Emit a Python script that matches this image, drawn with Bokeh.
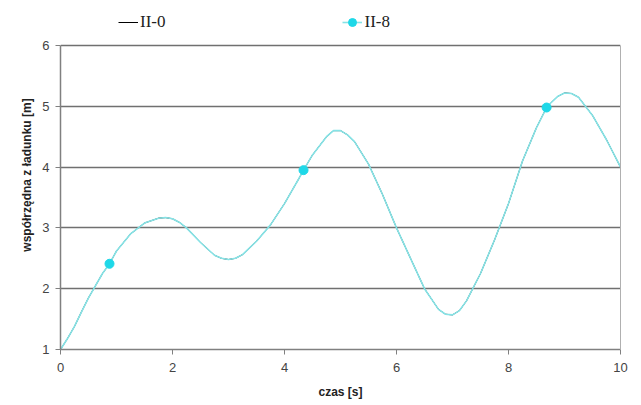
from bokeh.plotting import figure
from bokeh.models import Legend, LegendItem, Range1d, FixedTicker, LinearAxis
from bokeh.embed import file_html
from bokeh.resources import INLINE

# ---- data ----
t_values = [0.0, 0.125, 0.25, 0.375, 0.5, 0.75, 0.875, 1.0, 1.25, 1.5, 1.75, 1.875, 2.0,
            2.125, 2.25, 2.5, 2.75, 2.875, 3.0, 3.125, 3.25, 3.5, 3.75, 4.0, 4.25, 4.34,
            4.5, 4.75, 4.875, 5.0, 5.125, 5.25, 5.5, 5.75, 6.0, 6.25, 6.5, 6.75, 6.875,
            7.0, 7.125, 7.25, 7.5, 7.75, 8.0, 8.25, 8.5, 8.68, 8.75, 8.875, 9.0, 9.125,
            9.25, 9.5, 9.75, 10.0]
y_II0 = [1.0, 1.18, 1.38, 1.62, 1.85, 2.25, 2.41, 2.62, 2.9, 3.08, 3.16, 3.17, 3.15,
         3.09, 3.0, 2.76, 2.55, 2.5, 2.48, 2.5, 2.56, 2.78, 3.05, 3.4, 3.8, 3.95,
         4.2, 4.5, 4.6, 4.6, 4.53, 4.42, 4.05, 3.55, 3.0, 2.5, 2.0, 1.66, 1.58,
         1.57, 1.64, 1.8, 2.25, 2.8, 3.4, 4.1, 4.65, 4.98, 5.05, 5.16, 5.22, 5.21,
         5.15, 4.85, 4.45, 4.0]
y_II8 = list(y_II0)
marker_t = [0.875, 4.34, 8.68]
marker_y = [2.41, 3.95, 4.98]
x_ticks = [0, 2, 4, 6, 8, 10]
y_ticks = [1, 2, 3, 4, 5, 6]
y_min, y_max = 1, 6
series_names = ["II-0", "II-8"]

# frame extends above y=6 so the legend can sit in the top margin area
p = figure(width=641, height=405, output_backend="svg", toolbar_location=None,
           x_range=Range1d(0, 10), y_range=Range1d(1, 6 + 45 / 60.8),
           min_border_left=60, min_border_right=21, min_border_top=0, min_border_bottom=56,
           frame_width=560, frame_height=349)
p.outline_line_color = None
p.background_fill_color = "white"
p.border_fill_color = "white"

p.xgrid.grid_line_color = None
p.ygrid.grid_line_color = "#707070"
p.ygrid.grid_line_width = 1.5

for ax in (p.xaxis[0], p.yaxis[0]):
    ax.axis_line_color = "#808080"
    ax.axis_line_width = 1.5
    ax.major_tick_line_color = "#808080"
    ax.major_tick_out = 5
    ax.major_tick_in = 0
    ax.minor_tick_line_color = None
    ax.major_label_text_font = "Liberation Sans"
    ax.major_label_text_font_size = "13px"
    ax.major_label_text_color = "#444444"
    ax.axis_label_text_font = "Liberation Sans"
    ax.axis_label_text_font_size = "12px"
    ax.axis_label_text_font_style = "bold"
    ax.axis_label_text_color = "#222222"

p.xaxis.ticker = FixedTicker(ticks=x_ticks)
p.yaxis.ticker = FixedTicker(ticks=y_ticks)
p.yaxis.bounds = (y_min, y_max)
p.xaxis.axis_label = "czas [s]"
p.yaxis.axis_label = "współrzędna z ładunku [m]"
p.xaxis.major_label_standoff = 8
p.xaxis.axis_label_standoff = 10
p.yaxis.major_label_standoff = 6
p.yaxis.axis_label_standoff = 5

right = LinearAxis(ticker=FixedTicker(ticks=[]), bounds=(y_min, y_max),
                   axis_line_color="#b0b0b0", axis_line_width=1,
                   major_tick_line_color=None, minor_tick_line_color=None,
                   major_label_text_font_size="0px")
p.add_layout(right, "right")

r0 = p.line(t_values, y_II0, line_color="black", line_width=1)
r8 = p.line(t_values, y_II8, line_color="#86e3e6", line_width=1.6)
rm = p.scatter(marker_t, marker_y, marker="circle", size=9,
               fill_color="#1ed8e8", line_color="#1ed8e8")

legend = Legend(items=[LegendItem(label=series_names[0], renderers=[r0]),
                       LegendItem(label=series_names[1], renderers=[r8, rm])],
                orientation="horizontal", location=(58, 317),
                label_text_font="Liberation Serif", label_text_font_size="17px",
                label_text_color="#222222", glyph_width=20, glyph_height=20,
                label_standoff=2, spacing=177, padding=0, margin=0,
                border_line_color=None, background_fill_alpha=0)
p.add_layout(legend, "center")

open("out.html", "w").write(file_html(p, INLINE))
